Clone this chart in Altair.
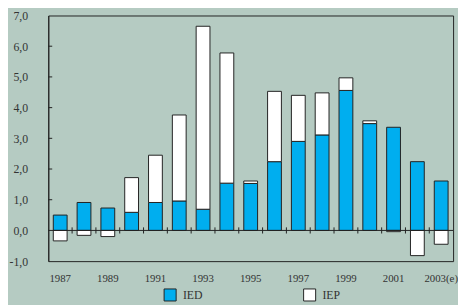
import altair as alt
import pandas as pd

years = ['1987', '1988', '1989', '1990', '1991', '1992', '1993', '1994', '1995',
         '1996', '1997', '1998', '1999', '2000', '2001', '2002', '2003(e)']
ied = [0.50, 0.91, 0.73, 0.59, 0.91, 0.96, 0.69, 1.54, 1.53, 2.24, 2.90, 3.11,
       4.56, 3.48, 3.36, 2.24, 1.61]
iep = [-0.34, -0.16, -0.20, 1.13, 1.54, 2.80, 5.96, 4.24, 0.08, 2.29, 1.50, 1.37,
       0.41, 0.09, -0.04, -0.82, -0.45]
series = ['IED', 'IEP']
colors = ['#00AEEF', '#FFFFFF']
inner_ticks = [1, 2, 3, 4, 5, 6]

rows = []
for i, y in enumerate(years):
    rows.append({'year': y, 'series': 'IED', 'value': ied[i], 'ord': 0})
    rows.append({'year': y, 'series': 'IEP', 'value': iep[i], 'ord': 1})
df = pd.DataFrame(rows)

FONT = 'Liberation Serif'
TXT = '#333333'

xscale = alt.Scale(domain=years, paddingInner=0, paddingOuter=0)
yscale = alt.Scale(domain=[-1, 7], nice=False, zero=False)

bars = alt.Chart(df).mark_bar(
    stroke='#222222', strokeWidth=1, width=alt.RelativeBandSize(0.58)
).encode(
    x=alt.X('year:N', scale=xscale, sort=years, title=None),
    y=alt.Y('value:Q', stack='zero', scale=yscale, title=None),
    color=alt.Color('series:N', scale=alt.Scale(domain=series, range=colors),
                    legend=alt.Legend(title=None, orient='none', direction='horizontal',
                                      legendX=117, legendY=277,
                                      symbolType='square', symbolSize=150,
                                      symbolStrokeColor='#222222', symbolStrokeWidth=1,
                                      symbolOpacity=1,
                                      labelOffset=6, columnPadding=100)),
    order=alt.Order('ord:Q'),
)

zero_df = pd.DataFrame({'z': [0]})
zero_line = alt.Chart(zero_df).mark_rule(color='#222222', strokeWidth=1).encode(
    y=alt.Y('z:Q', scale=yscale, title=None)
)

tick_df = pd.DataFrame({'year': years[1:], 'lo': [-0.1] * 16, 'hi': [0.1] * 16})
x_ticks = alt.Chart(tick_df).mark_rule(color='#222222', strokeWidth=1).encode(
    x=alt.X('year:N', scale=xscale, sort=years, bandPosition=0, title=None),
    y=alt.Y('lo:Q', scale=yscale, title=None),
    y2='hi:Q',
)

ytick_df = pd.DataFrame({'v': inner_ticks})
y_ticks_in = alt.Chart(ytick_df).mark_rule(color='#222222', strokeWidth=1).encode(
    y=alt.Y('v:Q', scale=yscale, title=None),
    x=alt.value(0),
    x2=alt.value(4),
)

chart = alt.layer(bars, zero_line, x_ticks, y_ticks_in).properties(
    width=412, height=250,
    padding={'left': 41, 'top': 5, 'right': 5, 'bottom': 42},
    autosize=alt.AutoSizeParams(type='none'),
    background='#B5CBC2',
).configure_view(
    stroke='#222222', strokeWidth=1
).configure_axis(
    labelFont=FONT, labelFontSize=12, labelColor=TXT, labelOverlap=False, grid=False
).configure_axisX(
    ticks=False, domain=False, labelAngle=0, labelPadding=12, labelFontSize=11,
    labelExpr="parseInt(datum.label) % 2 == 1 ? datum.label : ''"
).configure_axisY(
    ticks=False, tickSize=0, domain=True, domainColor='#222222', tickCount=8,
    labelPadding=21, labelExpr="datum.value + ',0'"
).configure_legend(
    labelFont=FONT, labelFontSize=12, labelColor=TXT
)

chart.save('out.html', embed_options={'renderer': 'svg', 'actions': False})
